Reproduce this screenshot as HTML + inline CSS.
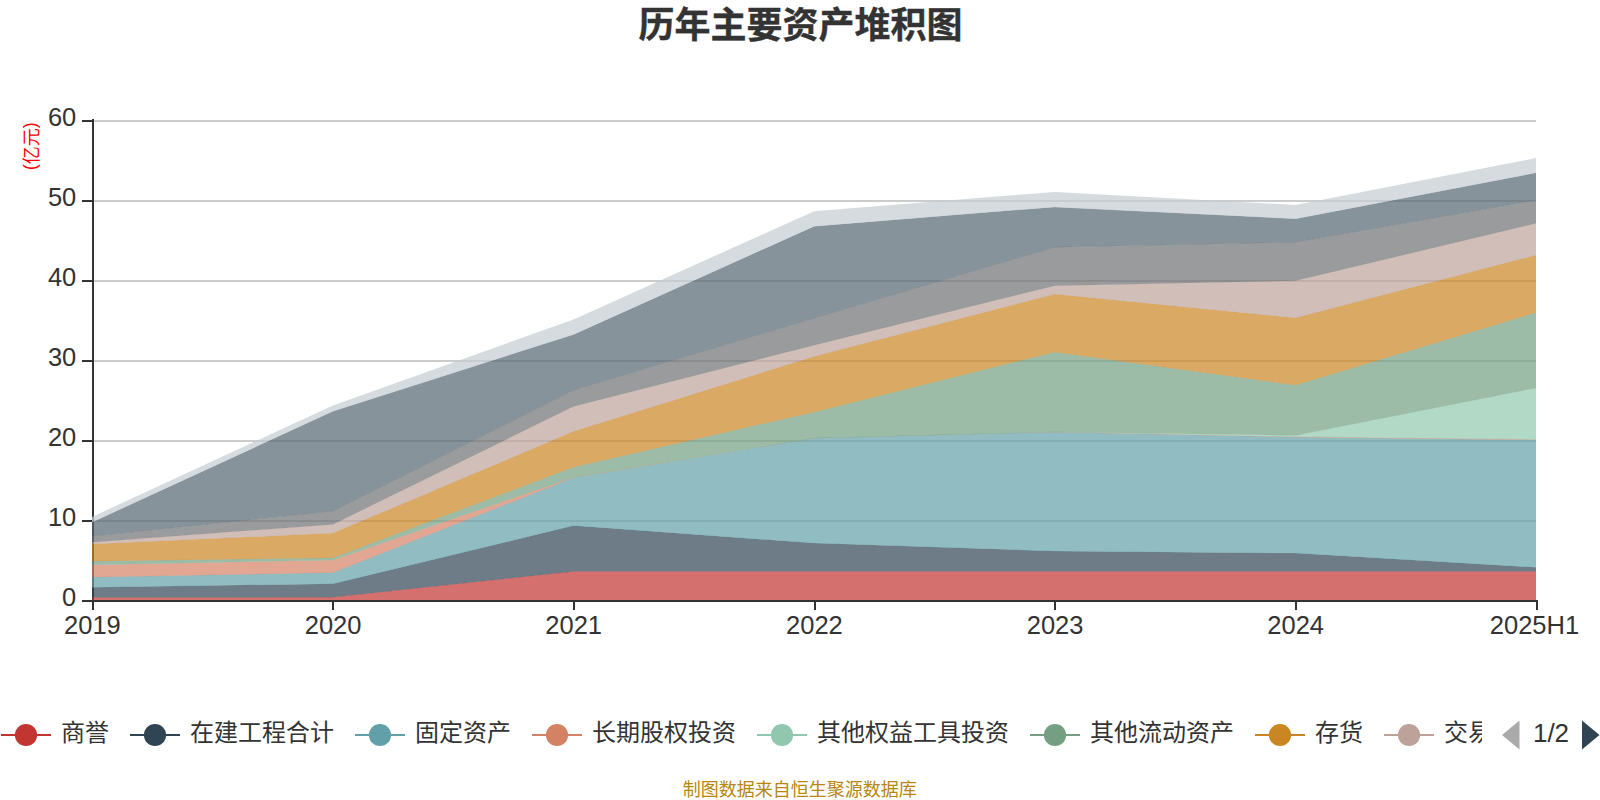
<!DOCTYPE html>
<html lang="zh-CN">
<head>
<meta charset="utf-8">
<title>历年主要资产堆积图</title>
<style>
html,body{margin:0;padding:0;background:#fff;}
body{width:1600px;height:800px;overflow:hidden;position:relative;font-family:"Liberation Sans", "Noto Sans CJK SC", sans-serif;}
svg{position:absolute;left:0;top:0;display:block;}
text{font-family:"Liberation Sans", "Noto Sans CJK SC", sans-serif;}
</style>
</head>
<body>
<svg width="1600" height="800" viewBox="0 0 1600 800">
<rect x="0" y="0" width="1600" height="800" fill="#ffffff"/>
<text x="800.5" y="38" text-anchor="middle" font-size="36" font-weight="bold" fill="#333333" stroke="#333333" stroke-width="0.35">历年主要资产堆积图</text>
<g shape-rendering="crispEdges" fill="#cccccc">
<rect x="93" y="520" width="1443" height="2"/>
<rect x="93" y="440" width="1443" height="2"/>
<rect x="93" y="360" width="1443" height="2"/>
<rect x="93" y="280" width="1443" height="2"/>
<rect x="93" y="200" width="1443" height="2"/>
<rect x="93" y="120" width="1443" height="2"/>
</g>
<g shape-rendering="crispEdges" fill="#333333">
<rect x="92" y="119" width="2" height="483"/>
<rect x="82" y="600" width="11" height="2"/>
<rect x="82" y="520" width="11" height="2"/>
<rect x="82" y="440" width="11" height="2"/>
<rect x="82" y="360" width="11" height="2"/>
<rect x="82" y="280" width="11" height="2"/>
<rect x="82" y="200" width="11" height="2"/>
<rect x="82" y="120" width="11" height="2"/>
<rect x="92" y="600" width="1446" height="2"/>
<rect x="92" y="601" width="2" height="9"/>
<rect x="332" y="601" width="2" height="9"/>
<rect x="573" y="601" width="2" height="9"/>
<rect x="814" y="601" width="2" height="9"/>
<rect x="1054" y="601" width="2" height="9"/>
<rect x="1295" y="601" width="2" height="9"/>
<rect x="1536" y="601" width="2" height="9"/>
</g>
<g fill-opacity="0.7" stroke="none">
<polygon fill="#c23531" points="92.00,597.20 332.87,597.10 573.53,571.25 814.20,571.25 1054.87,571.25 1295.53,571.25 1536.00,571.25 1536.00,600.00 1295.53,600.00 1054.87,600.00 814.20,600.00 573.53,600.00 332.87,600.00 92.00,600.00"/>
<polygon fill="#2f4554" points="92.00,587.20 332.87,583.75 573.53,525.60 814.20,543.10 1054.87,551.00 1295.53,553.10 1536.00,567.25 1536.00,571.50 1295.53,571.50 1054.87,571.50 814.20,571.50 573.53,571.50 332.87,597.35 92.00,597.45"/>
<polygon fill="#61a0a8" points="92.00,576.90 332.87,572.60 573.53,477.50 814.20,438.10 1054.87,431.90 1295.53,436.90 1536.00,439.75 1536.00,567.50 1295.53,553.35 1054.87,551.25 814.20,543.35 573.53,525.85 332.87,584.00 92.00,587.45"/>
<polygon fill="#d48265" points="92.00,564.70 332.87,560.00 573.53,477.10 814.20,438.00 1054.87,431.80 1295.53,436.60 1536.00,439.45 1536.00,440.00 1295.53,437.15 1054.87,432.15 814.20,438.35 573.53,477.75 332.87,572.85 92.00,577.15"/>
<polygon fill="#91c7ae" points="92.00,564.50 332.87,559.70 573.53,477.00 814.20,437.90 1054.87,431.70 1295.53,435.20 1536.00,387.75 1536.00,439.70 1295.53,436.85 1054.87,432.05 814.20,438.25 573.53,477.35 332.87,560.25 92.00,564.95"/>
<polygon fill="#749f83" points="92.00,560.90 332.87,557.80 573.53,466.90 814.20,411.90 1054.87,351.90 1295.53,385.00 1536.00,312.50 1536.00,388.00 1295.53,435.45 1054.87,431.95 814.20,438.15 573.53,477.25 332.87,559.95 92.00,564.75"/>
<polygon fill="#ca8622" points="92.00,544.00 332.87,533.10 573.53,431.25 814.20,356.25 1054.87,294.00 1295.53,317.75 1536.00,255.00 1536.00,312.75 1295.53,385.25 1054.87,352.15 814.20,412.15 573.53,467.15 332.87,558.05 92.00,561.15"/>
<polygon fill="#bda29a" points="92.00,541.90 332.87,524.20 573.53,406.25 814.20,345.00 1054.87,285.40 1295.53,280.60 1536.00,223.10 1536.00,255.25 1295.53,318.00 1054.87,294.25 814.20,356.50 573.53,431.50 332.87,533.35 92.00,544.25"/>
<polygon fill="#6e7074" points="92.00,535.90 332.87,510.90 573.53,390.00 814.20,318.10 1054.87,246.90 1295.53,241.90 1536.00,200.00 1536.00,223.35 1295.53,280.85 1054.87,285.65 814.20,345.25 573.53,406.50 332.87,524.45 92.00,542.15"/>
<polygon fill="#546570" points="92.00,522.20 332.87,411.25 573.53,334.40 814.20,226.25 1054.87,206.90 1295.53,218.75 1536.00,172.75 1536.00,200.25 1295.53,242.15 1054.87,247.15 814.20,318.35 573.53,390.25 332.87,511.15 92.00,536.15"/>
<polygon fill="#c4ccd3" points="92.00,516.90 332.87,405.60 573.53,319.40 814.20,211.25 1054.87,191.90 1295.53,205.00 1536.00,158.10 1536.00,173.00 1295.53,219.00 1054.87,207.15 814.20,226.50 573.53,334.65 332.87,411.50 92.00,522.45"/>
</g>
<g font-size="25.5" fill="#333333" text-anchor="end">
<text x="76.3" y="605.9">0</text>
<text x="76.3" y="525.9">10</text>
<text x="76.3" y="445.9">20</text>
<text x="76.3" y="365.9">30</text>
<text x="76.3" y="285.9">40</text>
<text x="76.3" y="205.9">50</text>
<text x="76.3" y="125.9">60</text>
</g>
<g font-size="25.5" fill="#333333" text-anchor="middle">
<text x="92.4" y="633.8">2019</text>
<text x="333.1" y="633.8">2020</text>
<text x="573.7" y="633.8">2021</text>
<text x="814.4" y="633.8">2022</text>
<text x="1055.1" y="633.8">2023</text>
<text x="1295.7" y="633.8">2024</text>
<text x="1534.5" y="633.8">2025H1</text>
</g>
<text transform="translate(37.7,146.2) rotate(-90)" text-anchor="middle" font-size="18" fill="#ff0000"><tspan dy="-1.8">(</tspan><tspan dy="1.8">亿元</tspan><tspan dy="-1.8">)</tspan></text>
<defs><clipPath id="lc"><rect x="0" y="700" width="1482" height="70"/></clipPath></defs>
<g clip-path="url(#lc)">
<rect x="1" y="734" width="50" height="2" fill="#c23531"/><circle cx="26" cy="735" r="11.1" fill="#c23531"/><text x="61" y="740.8" font-size="24" fill="#333333">商誉</text>
<rect x="130" y="734" width="50" height="2" fill="#2f4554"/><circle cx="155" cy="735" r="11.1" fill="#2f4554"/><text x="190" y="740.8" font-size="24" fill="#333333">在建工程合计</text>
<rect x="355" y="734" width="50" height="2" fill="#61a0a8"/><circle cx="380" cy="735" r="11.1" fill="#61a0a8"/><text x="415" y="740.8" font-size="24" fill="#333333">固定资产</text>
<rect x="532" y="734" width="50" height="2" fill="#d48265"/><circle cx="557" cy="735" r="11.1" fill="#d48265"/><text x="592" y="740.8" font-size="24" fill="#333333">长期股权投资</text>
<rect x="757" y="734" width="50" height="2" fill="#91c7ae"/><circle cx="782" cy="735" r="11.1" fill="#91c7ae"/><text x="817" y="740.8" font-size="24" fill="#333333">其他权益工具投资</text>
<rect x="1030" y="734" width="50" height="2" fill="#749f83"/><circle cx="1055" cy="735" r="11.1" fill="#749f83"/><text x="1090" y="740.8" font-size="24" fill="#333333">其他流动资产</text>
<rect x="1255" y="734" width="50" height="2" fill="#ca8622"/><circle cx="1280" cy="735" r="11.1" fill="#ca8622"/><text x="1315" y="740.8" font-size="24" fill="#333333">存货</text>
<rect x="1384" y="734" width="50" height="2" fill="#bda29a"/><circle cx="1409" cy="735" r="11.1" fill="#bda29a"/><text x="1444" y="740.8" font-size="24" fill="#333333">交易性金融资产</text>
</g>
<polygon points="1502,735 1519.5,720.5 1519.5,749.5" fill="#aaaaaa"/>
<text x="1551" y="741.6" text-anchor="middle" font-size="26" fill="#333333">1/2</text>
<polygon points="1599.5,735 1582,720.5 1582,749.5" fill="#2f4554"/>
<text x="799.8" y="796.4" text-anchor="middle" font-size="18" fill="#b8860b">制图数据来自恒生聚源数据库</text>
</svg>
</body>
</html>
